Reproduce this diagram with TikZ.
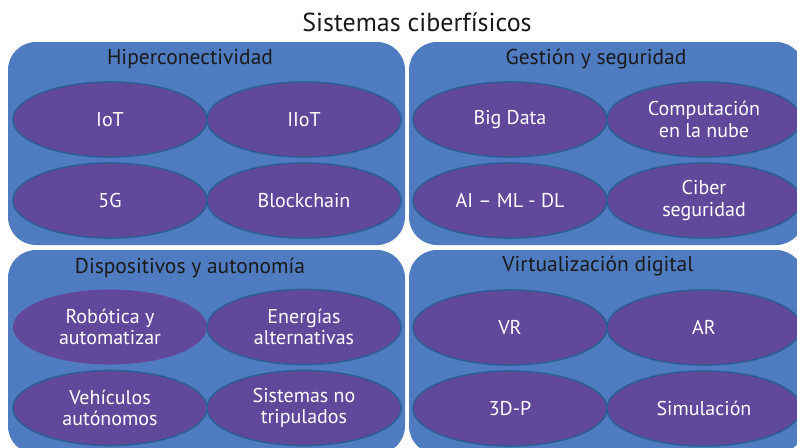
\documentclass[tikz,border=0pt]{standalone}
\usepackage{fontspec}
\setmainfont{PT Sans}
\usetikzlibrary{shapes.geometric}
\definecolor{panelblue}{HTML}{4F7CC0}
\definecolor{ellpurple}{HTML}{62489B}
\definecolor{ellborder}{HTML}{2E5E93}
\definecolor{titletext}{HTML}{1A1A1A}
\tikzset{
  panel/.style={fill=panelblue, draw=none, rounded corners=28pt},
  item/.style={ellipse, fill=ellpurple, draw=ellborder, line width=1.6pt,
    minimum width=194pt, minimum height=75pt, inner sep=0pt,
    text=white, align=center, font=\fontsize{20}{21.5}\selectfont},
  paneltitle/.style={text=titletext, font=\fontsize{21.5}{24}\selectfont, inner sep=0pt},
  maintitle/.style={text=titletext, font=\fontsize{26}{30}\selectfont, inner sep=0pt}
}
\begin{document}
\begin{tikzpicture}[x=1pt,y=-1pt]
\useasboundingbox (0,0) rectangle (797,447);
\fill[white] (0,0) rectangle (797,447);
\clip (0,0) rectangle (797,447);
\node[maintitle] (title) at (417,22) {Sistemas ciberfísicos};
% panels
\draw[panel] (8,42) rectangle (405,245);
\draw[panel] (409,42) rectangle (804,245);
\draw[panel] (8,250) rectangle (405,454);
\draw[panel] (409,250) rectangle (804,454);
% panel titles
\node[paneltitle] (p1) at (190,59) {Hiperconectividad};
\node[paneltitle] (p2) at (596,59) {Gestión y seguridad};
\node[paneltitle] (p3) at (190,268) {Dispositivos y autonomía};
\node[paneltitle] (p4) at (598,266) {Virtualización digital};
% panel 1
\node[item] (iot) at (110,119.5) {IoT};
\node[item] (iiot) at (304,119.5) {IIoT};
\node[item] (g5) at (110,200.5) {5G};
\node[item] (block) at (304,200.5) {Blockchain};
% panel 2
\node[item] (big) at (510,119.5) {Big Data};
\node[item] (cloud) at (704,119.5) {Computación\\en la nube};
\node[item] (ai) at (510,200.5) {AI – ML - DL};
\node[item] (cyber) at (704,200.5) {Ciber\\seguridad};
% panel 3
\node[item, draw=none] (robot) at (110,327) {Robótica y\\automatizar};
\node[item] (energy) at (304,327) {Energías\\alternativas};
\node[item] (vehic) at (110,408) {Vehículos\\autónomos};
\node[item] (unman) at (304,408) {Sistemas no\\tripulados};
% panel 4
\node[item] (vr) at (510,327.5) {VR};
\node[item] (ar) at (704,327.5) {AR};
\node[item] (print) at (510,408.5) {3D-P};
\node[item] (sim) at (704,408.5) {Simulación};
\end{tikzpicture}
\end{document}
